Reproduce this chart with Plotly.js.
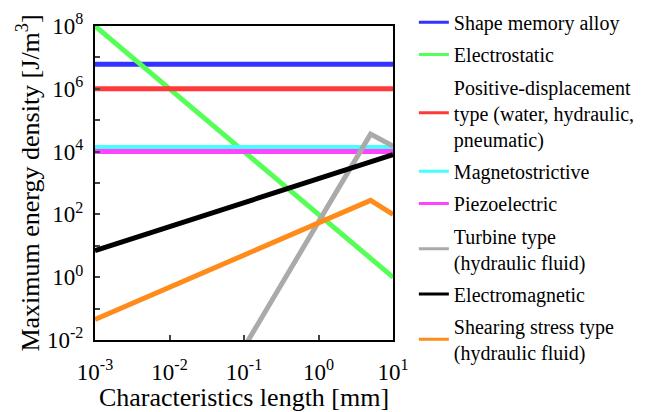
<!DOCTYPE html>
<html><head><meta charset="utf-8">
<script src="https://cdn.plot.ly/plotly-3.0.1.min.js"></script>
<style>html,body{margin:0;padding:0;background:#fff}#chart{width:657px;height:412px}</style>
</head><body><div id="chart"></div>
<script>
const names = ["Shape memory alloy","Electrostatic","Positive-displacement<br>type (water, hydraulic,<br>pneumatic)","Magnetostrictive","Piezoelectric","Turbine type<br>(hydraulic fluid)","Electromagnetic","Shearing stress type<br>(hydraulic fluid)"];
const colors = ["#3333ff","#55ff55","#ff3838","#44ffff","#ff44ff","#aaaaaa","#000000","#ff8c1a"];
const xSMA = [0.001, 10], ySMA = [6e6, 6e6];
const xES = [0.001, 10], yES = [1e8, 1];
const xPD = [0.001, 10], yPD = [1e6, 1e6];
const xMS = [0.001, 10], yMS = [1.4e4, 1.4e4];
const xPZ = [0.001, 10], yPZ = [1e4, 1e4];
const xTB = [0.1, 5, 10], yTB = [0.0058, 3.6e4, 1.5e4];
const xEM = [0.001, 10], yEM = [7, 8000];
const xSS = [0.001, 5, 10], ySS = [0.045, 280, 100];
const xs = [xSMA,xES,xPD,xMS,xPZ,xTB,xEM,xSS];
const ys = [ySMA,yES,yPD,yMS,yPZ,yTB,yEM,ySS];
const xTickVals = [0.001,0.01,0.1,1,10];
const xTickText = ["10<sup>-3</sup>","10<sup>-2</sup>","10<sup>-1</sup>","10<sup>0</sup>","10<sup>1</sup>"];
const yTickVals = [1e-2,1e-1,1,10,1e2,1e3,1e4,1e5,1e6,1e7,1e8];
const yTickText = ["10<sup>-2</sup>","","10<sup>0</sup>","","10<sup>2</sup>","","10<sup>4</sup>","","10<sup>6</sup>","","10<sup>8</sup>"];
const widths = [5,5,5,4,5,5,5,5];
const dataTraces = names.map((n,i)=>({x:xs[i],y:ys[i],name:n,mode:"lines",type:"scatter",showlegend:false,line:{color:colors[i],width:widths[i]}}));
const legendTraces = names.map((n,i)=>({x:[null],y:[null],name:n,mode:"lines",type:"scatter",legendgroup:"g"+i,showlegend:true,line:{color:colors[i],width:3}}));
const FAM = "Liberation Serif, Times New Roman, serif";
const layout = {
  width:657,height:412,
  margin:{l:95,r:264,t:26,b:72,autoexpand:false},
  paper_bgcolor:"#fff",plot_bgcolor:"#fff",
  font:{family:FAM,size:20,color:"#000"},
  showlegend:true,
  legend:{x:1.07,xanchor:"left",y:1.074,yanchor:"top",font:{family:FAM,size:20,color:"#000"},tracegroupgap:3.3,itemwidth:30,maxheight:1,bgcolor:"rgba(0,0,0,0)"},
  xaxis:{type:"log",range:[-3,1],tickmode:"array",tickvals:xTickVals,ticktext:xTickText,ticks:"inside",ticklen:5,tickwidth:2,ticklabelstandoff:10,showline:true,linewidth:2,linecolor:"#000",mirror:true,showgrid:false,zeroline:false,tickfont:{family:FAM,size:23,color:"#000"},title:{text:"Characteristics length [mm]",font:{family:FAM,size:26,color:"#000"},standoff:5}},
  yaxis:{type:"log",range:[-2,8],tickmode:"array",tickvals:yTickVals,ticktext:yTickText,ticks:"inside",ticklen:5,tickwidth:2,ticklabelstandoff:5,showline:true,linewidth:2,linecolor:"#000",mirror:true,showgrid:false,zeroline:false,tickfont:{family:FAM,size:23,color:"#000"},title:{text:"Maximum energy density [J/m<sup>3</sup>]",font:{family:FAM,size:26,color:"#000"},standoff:0}}
};
Plotly.newPlot("chart",dataTraces.concat(legendTraces),layout,{displayModeBar:false,staticPlot:true});
</script></body></html>
